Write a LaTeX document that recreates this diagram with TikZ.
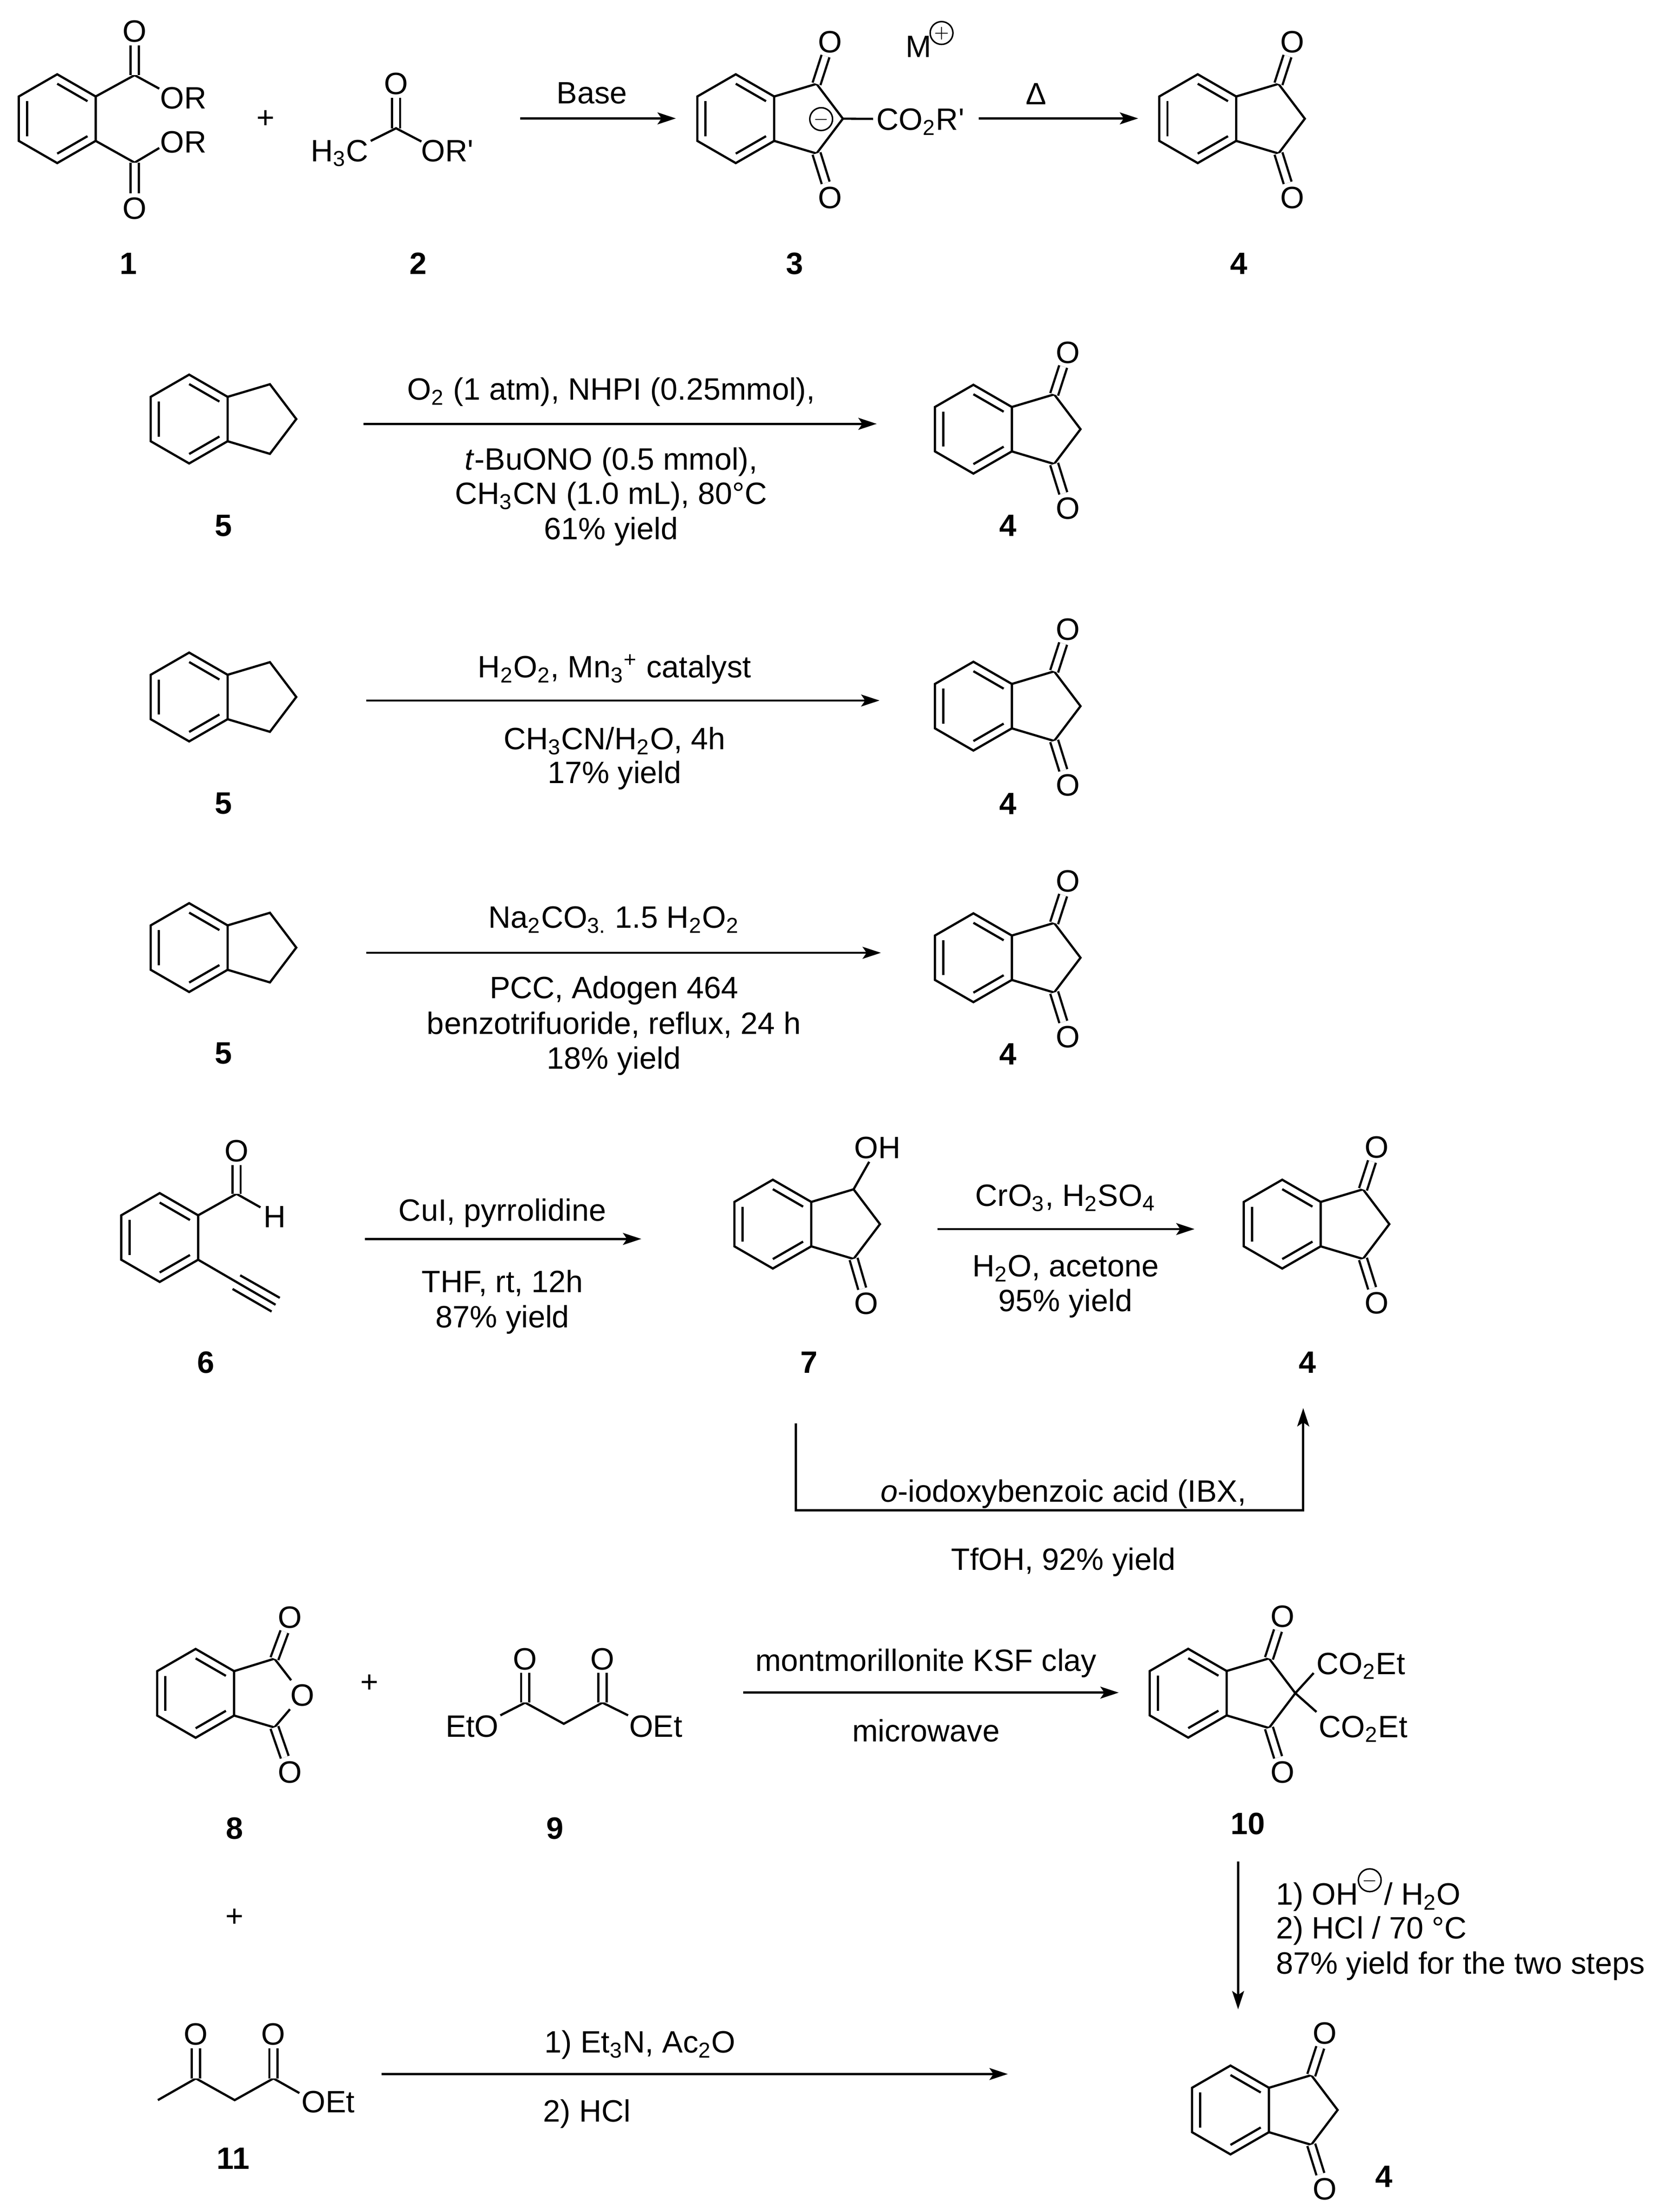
\documentclass[tikz,border=0pt]{standalone}
\usepackage{fontspec}
\setmainfont{Liberation Sans}
\newfontfamily\rawfont{Liberation Sans}
\usetikzlibrary{arrows.meta}
\newcommand{\rprime}{{\rawfont'}}
\newcommand{\hexframe}{
\draw[bond] (90:31.5) -- (30:31.5) -- (-30:31.5) -- (-90:31.5) -- (-150:31.5) -- (150:31.5) -- cycle;
\foreach \a/\b in {30/90, -30/-90, 150/210} {
\draw[bond] (\a:24.8) -- (\b:24.8);
}
\coordinate (-ne) at (-30:31.5);
\coordinate (-se) at (30:31.5);
}
\newcommand{\ringframe}{
\hexframe
\coordinate (-c1) at (57.3,-24.7);
\coordinate (-c2) at (76,0);
\coordinate (-c3) at (57.3,24.7);
\draw[bond] (-ne) -- (-c1) -- (-c2) -- (-c3) -- (-se);
}
\tikzset{
bond/.style={line width=0.9pt},
dbl/.style={line width=0.9pt, double, double distance=2.4pt},
rxn/.style={line width=0.9pt, -{Stealth[length=7.4pt, width=4.8pt, inset=1.6pt]}},
charge/.style={circle, draw, line width=0.6pt, minimum size=9.2pt, inner sep=0pt, font=\scriptsize, text height=4pt},
cmpd/.style={font=\fontsize{12.46}{15}\selectfont\bfseries},
benzo/.pic={\hexframe},
indane/.pic={\ringframe},
dione/.pic={
\ringframe
\node (-o1) at (67,-54.7) {O};
\node (-o3) at (67,55.8) {O};
\draw[dbl] (-c1) -- (-o1);
\draw[dbl] (-c3) -- (-o3);
}
}
\begin{document}
\begin{tikzpicture}[x=0.02cm, y=-0.02cm,
every node/.style={font=\fontsize{12.46}{15}\selectfont, inner sep=1.2pt, text height=8.9pt, text depth=0pt}]
\useasboundingbox (0,0) rectangle (1176.3,1569.4);

% phthalate + acetate to the 2-carboxylate salt
\pic (ph1) at (40.6,84.2) {benzo};
\coordinate (c1a) at (95.5,53.3);
\coordinate (c1b) at (95.5,115.4);
\coordinate (e1a) at (113,62.9);
\coordinate (e1b) at (113,105);
\node (o1a) at (95.5,22) {O};
\node (o1b) at (95.5,147.6) {O};
\node (or1a) at (130,69.4) {OR};
\node (or1b) at (130,100.6) {OR};
\draw[bond] (ph1-ne) -- (c1a) -- (e1a);
\draw[bond] (ph1-se) -- (c1b) -- (e1b);
\draw[dbl] (c1a) -- (o1a);
\draw[dbl] (c1b) -- (o1b);
\node (plus1) at (188.4,83) {+};
\coordinate (c2) at (281,91);
\coordinate (e2a) at (263,100);
\coordinate (e2b) at (299,100.4);
\node (o2) at (281,59) {O};
\node (me2) at (241,106.7) {H\textsubscript{3}C};
\node (or2) at (317.5,106.7) {OR\rprime};
\draw[dbl] (c2) -- (o2);
\draw[bond] (e2a) -- (c2) -- (e2b);
\coordinate (a1s) at (369,84);
\coordinate (a1e) at (479.5,84);
\draw[rxn] (a1s) -- (a1e);
\node (base) at (420,65.7) {Base};
\pic (d3) at (522,84.2) {dione};
\node (co3) at (653,84.5) {CO\textsubscript{2}R\rprime};
\draw[bond] (d3-c2) -- (co3);
\node[charge] (neg3) at (582.6,84.5) {$-$};
\node (m3) at (651.6,32.7) {M};
\node[charge] (pos3) at (668,23.4) {$+$};
\coordinate (a2s) at (694.4,84);
\coordinate (a2e) at (807.5,84);
\draw[rxn] (a2s) -- (a2e);
\node (heat) at (735,66.5) {Δ};
\pic (d4a) at (849.75,84.2) {dione};
\node[cmpd] (n1) at (91,186.6) {1};
\node[cmpd] (n2) at (296.8,186.6) {2};
\node[cmpd] (n3) at (563.7,186.6) {3};
\node[cmpd] (n4a) at (879,186.6) {4};

% indane rows
\pic (i5a) at (134.2,297.3) {indane};
\pic (d4b) at (690.6,304.5) {dione};
\coordinate (a3s) at (258,300.7);
\coordinate (a3e) at (622,300.7);
\draw[rxn] (a3s) -- (a3e);
\node (t3a) at (433.6,276) {O\textsubscript{2} (1 atm), NHPI (0.25mmol),};
\node (t3b) at (433.6,325.7) {\textit{t}-BuONO (0.5 mmol),};
\node (t3c) at (433.6,350) {CH\textsubscript{3}CN (1.0 mL), 80°C};
\node (t3d) at (433.6,375) {61\% yield};
\node[cmpd] (n5a) at (158.6,372.5) {5};
\node[cmpd] (n4b) at (715,372.5) {4};

\pic (i5b) at (134.2,494.5) {indane};
\pic (d4c) at (690.6,501) {dione};
\coordinate (a4s) at (260,497);
\coordinate (a4e) at (624,497);
\draw[rxn] (a4s) -- (a4e);
\node (t4a) at (436,473) {H\textsubscript{2}O\textsubscript{2}, Mn\textsubscript{3}\textsuperscript{+} catalyst};
\node (t4b) at (436,524) {CH\textsubscript{3}CN/H\textsubscript{2}O, 4h};
\node (t4c) at (436,548) {17\% yield};
\node[cmpd] (n5b) at (158.6,569.5) {5};
\node[cmpd] (n4c) at (715,570) {4};

\pic (i5c) at (134.2,672.3) {indane};
\pic (d4d) at (690.6,679.5) {dione};
\coordinate (a5s) at (260,676);
\coordinate (a5e) at (625,676);
\draw[rxn] (a5s) -- (a5e);
\node (t5a) at (435.6,650.7) {Na\textsubscript{2}CO\textsubscript{3.} 1.5 H\textsubscript{2}O\textsubscript{2}};
\node (t5b) at (435.6,700.7) {PCC, Adogen 464};
\node (t5c) at (435.6,726) {benzotrifuoride, reflux, 24 h};
\node (t5d) at (435.6,750.6) {18\% yield};
\node[cmpd] (n5c) at (158.6,747) {5};
\node[cmpd] (n4d) at (715,747.5) {4};

% alkynyl aldehyde and the alcohol
\pic (ph6) at (113.3,878) {benzo};
\coordinate (c6) at (167.8,847);
\coordinate (e6) at (184.8,856.6);
\coordinate (y6m) at (195.5,925.7);
\coordinate (y6a) at (170.4,904.8);
\coordinate (y6b) at (198.5,920.8);
\coordinate (y6c) at (165,914.5);
\coordinate (y6d) at (192.7,930.5);
\node (o6) at (167.8,816.4) {O};
\node (h6) at (195,863.2) {H};
\draw[bond] (ph6-ne) -- (c6) -- (e6);
\draw[dbl] (c6) -- (o6);
\draw[bond] (ph6-se) -- (y6m);
\draw[bond] (y6a) -- (y6b);
\draw[bond] (y6c) -- (y6d);
\coordinate (a6s) at (259,879);
\coordinate (a6e) at (455,879);
\draw[rxn] (a6s) -- (a6e);
\node (t6a) at (356.5,858.5) {CuI, pyrrolidine};
\node (t6b) at (356.5,909) {THF, rt, 12h};
\node (t6c) at (356.5,934) {87\% yield};
\pic (i7) at (548.3,868.5) {indane};
\node (oh7) at (622.5,814) {OH};
\node (o7) at (614.7,924.6) {O};
\draw[bond] (i7-c1) -- (oh7);
\draw[dbl] (i7-c3) -- (o7);
\coordinate (a7s) at (665,872);
\coordinate (a7e) at (847.5,872);
\draw[rxn] (a7s) -- (a7e);
\node (t7a) at (756,848) {CrO\textsubscript{3}, H\textsubscript{2}SO\textsubscript{4}};
\node (t7b) at (756,898) {H\textsubscript{2}O, acetone};
\node (t7c) at (756,922.5) {95\% yield};
\pic (d4e) at (909.7,868.5) {dione};
\node[cmpd] (n6) at (146,966.5) {6};
\node[cmpd] (n7) at (574,966.5) {7};
\node[cmpd] (n4e) at (927.7,966.5) {4};
\coordinate (a8s) at (564.7,1010);
\coordinate (a8b) at (564.7,1071.5);
\coordinate (a8c) at (924.6,1071.5);
\coordinate (a8e) at (924.6,999);
\draw[rxn] (a8s) -- (a8b) -- (a8c) -- (a8e);
\node (t8a) at (754.5,1057.7) {\textit{o}-iodoxybenzoic acid (IBX,};
\node (t8b) at (754.5,1106) {TfOH, 92\% yield};

% anhydride + malonate to the diester
\pic (ph8) at (138.8,1201.4) {benzo};
\coordinate (c8a) at (194.7,1176.8);
\coordinate (c8b) at (194.7,1225.6);
\node (or8) at (214.5,1202.4) {O};
\node (o8a) at (205.6,1147.4) {O};
\node (o8b) at (205.6,1257) {O};
\draw[bond] (ph8-ne) -- (c8a) -- (or8) -- (c8b) -- (ph8-se);
\draw[dbl] (c8a) -- (o8a);
\draw[dbl] (c8b) -- (o8b);
\node (plus2) at (262,1193) {+};
\coordinate (c9a) at (372.6,1208);
\coordinate (c9b) at (427.4,1208);
\coordinate (c9m) at (400,1223);
\coordinate (e9a) at (355,1217);
\coordinate (e9b) at (445.6,1217);
\node (o9a) at (372.6,1176.7) {O};
\node (o9b) at (427.4,1176.7) {O};
\node (eto9) at (335,1224.5) {EtO};
\node (oet9) at (465.3,1224.5) {OEt};
\draw[bond] (e9a) -- (c9a) -- (c9m) -- (c9b) -- (e9b);
\draw[dbl] (c9a) -- (o9a);
\draw[dbl] (c9b) -- (o9b);
\coordinate (a9s) at (527.3,1200.9);
\coordinate (a9e) at (793.7,1200.9);
\draw[rxn] (a9s) -- (a9e);
\node (t9a) at (657,1178) {montmorillonite KSF clay};
\node (t9b) at (657,1228) {microwave};
\pic (d10) at (843,1201.3) {dione};
\coordinate (e10a) at (932,1187);
\coordinate (e10b) at (934,1214.6);
\node[anchor=west, inner sep=0pt] (co10a) at (933.6,1180) {CO\textsubscript{2}Et};
\node[anchor=west, inner sep=0pt] (co10b) at (935.3,1224.8) {CO\textsubscript{2}Et};
\draw[bond] (d10-c2) -- (e10a);
\draw[bond] (d10-c2) -- (e10b);
\node[cmpd] (n8) at (166.5,1297) {8};
\node[cmpd] (n9) at (393.7,1297) {9};
\node[cmpd] (n10) at (885.5,1293.6) {10};
\node (plus3) at (166.5,1359) {+};

% last step
\coordinate (a10s) at (878.4,1320.7);
\coordinate (a10e) at (878.4,1425.6);
\draw[rxn] (a10s) -- (a10e);
\node[anchor=west, inner sep=0pt] (t10a) at (905,1343.7) {1) OH\hspace{10.4pt}/ H\textsubscript{2}O};
\node[charge] (neg10) at (971.8,1334) {$-$};
\node[anchor=west, inner sep=0pt] (t10b) at (905,1367.6) {2) HCl / 70 °C};
\node[anchor=west, inner sep=0pt] (t10c) at (905,1392.6) {87\% yield for the two steps};
\pic (d4f) at (873,1497) {dione};
\node[cmpd] (n4f) at (981.8,1544) {4};

% acetoacetate
\coordinate (me11) at (112,1490);
\coordinate (c11a) at (139,1474.6);
\coordinate (c11m) at (166.5,1490);
\coordinate (c11b) at (194,1474.6);
\coordinate (e11) at (212.4,1485);
\node (o11a) at (139,1443) {O};
\node (o11b) at (194,1443) {O};
\node[anchor=west, inner sep=0pt] (oet11) at (213.6,1491) {OEt};
\draw[bond] (me11) -- (c11a) -- (c11m) -- (c11b) -- (e11);
\draw[dbl] (c11a) -- (o11a);
\draw[dbl] (c11b) -- (o11b);
\coordinate (a11s) at (270.6,1471.5);
\coordinate (a11e) at (715,1471.5);
\draw[rxn] (a11s) -- (a11e);
\node[anchor=west, inner sep=0pt] (t11a) at (386,1448.7) {1) Et\textsubscript{3}N, Ac\textsubscript{2}O};
\node[anchor=west, inner sep=0pt] (t11b) at (385,1497.6) {2) HCl};
\node[cmpd] (n11) at (165.5,1531) {11};
\end{tikzpicture}
\end{document}
